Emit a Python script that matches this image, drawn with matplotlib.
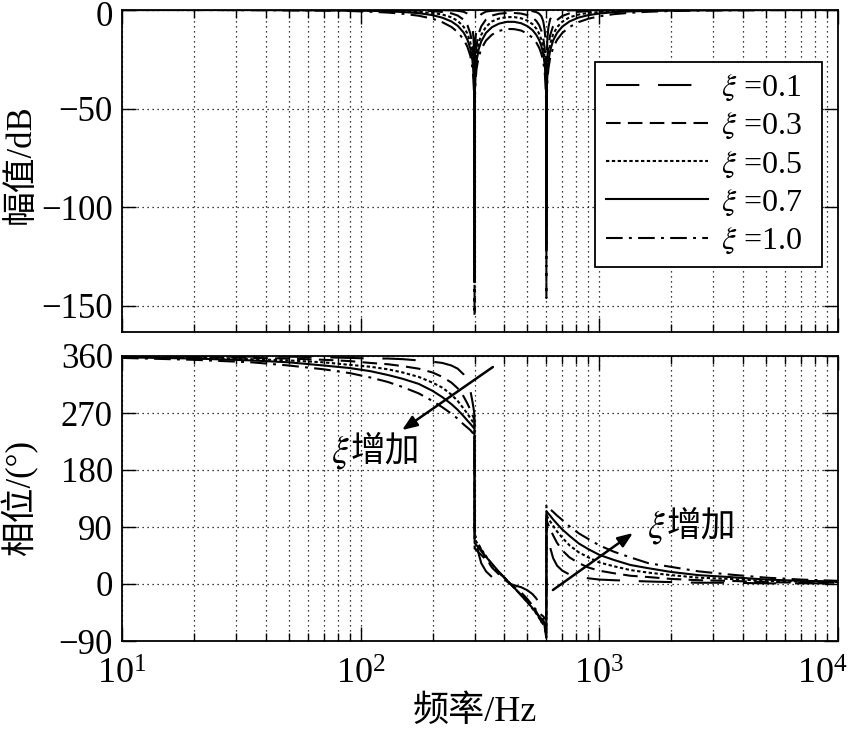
import matplotlib
matplotlib.use("Agg")
import matplotlib.pyplot as plt
import matplotlib.transforms as mtransforms
from matplotlib.ticker import LogLocator, NullFormatter, FixedLocator

plt.rcParams['font.family'] = ['Liberation Serif', 'Noto Sans CJK SC']
plt.rcParams['mathtext.fontset'] = 'stix'
plt.rcParams['axes.unicode_minus'] = True

# ---------------- data ----------------
xi_labels = [r'$\xi$ =0.1', r'$\xi$ =0.3', r'$\xi$ =0.5', r'$\xi$ =0.7', r'$\xi$ =1.0']

freq_phase = [10, 20, 35, 50, 70, 90, 110, 130, 150, 175,
              200, 220, 240, 255, 270, 280, 288, 294, 297, 299,
              299.8, 300.2, 301, 303, 306, 312, 320, 335, 355, 380,
              410, 440,
              470, 500, 525, 545, 560, 572, 582, 590, 595, 598,
              599.6, 600.4, 602, 606, 612, 622, 640, 665, 700, 750,
              820, 900, 1000, 1150, 1350, 1600, 2000, 2600, 3500, 5000,
              7000, 10000]

phase_01 = [360, 359, 359, 359, 358, 357, 356, 356, 355, 353,
            351, 349, 345, 340, 331, 321, 306, 288, 278, 270,
            267, 85, 82, 75, 64, 48, 33, 20, 11, 6,
            2, -2,
            -5, -10, -16, -23, -32, -42, -55, -67, -77, -82,
            -85, 93, 90, 82, 72, 58, 41, 29, 21, 15,
            11, 9, 7, 6, 5, 4, 3, 2, 2, 1,
            1, 1]
phase_03 = [359, 358, 357, 356, 354, 352, 349, 347, 344, 340,
            334, 327, 318, 309, 296, 285, 275, 267, 263, 260,
            259, 78, 77, 75, 71, 63, 54, 40, 26, 15,
            4, -5,
            -13, -24, -34, -44, -53, -60, -67, -72, -75, -77,
            -78, 101, 100, 97, 93, 87, 77, 65, 53, 42,
            33, 26, 21, 17, 13, 11, 8, 6, 5, 3,
            2, 2]
phase_05 = [359, 357, 355, 353, 350, 346, 343, 339, 334, 327,
            318, 310, 299, 289, 277, 269, 262, 257, 254, 252,
            252, 71, 71, 69, 66, 61, 55, 44, 31, 18,
            6, -6,
            -17, -29, -39, -47, -54, -59, -64, -67, -69, -71,
            -71, 108, 108, 106, 103, 99, 92, 83, 73, 61,
            50, 42, 34, 28, 22, 18, 14, 10, 8, 5,
            4, 3]
phase_07 = [358, 356, 353, 350, 345, 341, 336, 330, 324, 316,
            305, 295, 284, 275, 265, 258, 253, 249, 247, 246,
            245, 65, 64, 63, 61, 57, 52, 43, 32, 19,
            6, -6,
            -18, -29, -38, -46, -51, -55, -59, -62, -63, -64,
            -65, 115, 114, 113, 111, 108, 102, 95, 86, 76,
            64, 55, 46, 38, 30, 25, 19, 14, 11, 7,
            5, 4]
phase_10 = [357, 354, 350, 345, 339, 333, 326, 319, 311, 301,
            289, 279, 269, 261, 252, 247, 243, 239, 238, 237,
            236, 56, 56, 55, 53, 50, 46, 38, 29, 18,
            6, -6,
            -17, -27, -35, -41, -45, -49, -51, -54, -55, -56,
            -56, 124, 123, 122, 121, 118, 114, 108, 101, 91,
            80, 71, 61, 51, 42, 33, 27, 20, 15, 10,
            7, 5]

freq_mag = [10, 20, 35, 50, 70, 90, 110, 130, 150, 175,
            200, 220, 240, 255, 270, 280, 288, 294, 297, 299,
            299.8, 300, 300.2, 301, 303, 306, 312, 320, 335, 355, 380,
            410, 440,
            470, 500, 525, 545, 560, 572, 582, 590, 595, 598,
            599.6, 600, 600.4, 602, 606, 612, 622, 640, 665, 700, 750,
            820, 900, 1000, 1150, 1350, 1600, 2000, 2600, 3500, 5000,
            7000, 10000]

mag_01 = [0, 0, 0, 0, 0, 0, 0, 0, 0, 0,
          -0.1, -0.1, -0.2, -0.4, -0.9, -1.8, -4.0, -8.5, -14.1, -23.5,
          -37.5, -112, -37.5, -23.6, -14.2, -8.7, -4.2, -2.1, -0.8, -0.4, -0.2,
          -0.2, -0.2,
          -0.2, -0.3, -0.6, -1.1, -1.9, -3.2, -5.7, -10.0, -15.7, -23.5,
          -37.5, -88, -37.5, -23.6, -14.2, -8.7, -4.7, -2.1, -0.9, -0.4, -0.2,
          -0.1, -0.1, 0, 0, 0, 0, 0, 0, 0, 0,
          0, 0]
mag_03 = [0, 0, 0, 0, 0, -0.1, -0.1, -0.1, -0.2, -0.3,
          -0.6, -1.0, -1.7, -2.8, -4.9, -7.7, -11.8, -17.7, -23.7, -33.2,
          -47.2, -120, -47.2, -33.3, -23.8, -17.8, -12.1, -8.3, -4.8, -2.8, -1.9,
          -1.5, -1.5,
          -1.8, -2.6, -3.8, -5.6, -7.8, -10.6, -14.2, -19.2, -25.3, -33.2,
          -47.2, -98, -47.2, -33.2, -23.7, -17.8, -12.8, -8.2, -5.1, -3.0, -1.7,
          -0.9, -0.6, -0.4, -0.2, -0.1, -0.1, -0.1, 0, 0, 0,
          0, 0]
mag_05 = [0, 0, 0, 0, -0.1, -0.1, -0.2, -0.4, -0.5, -0.9,
          -1.5, -2.3, -3.7, -5.5, -8.5, -11.9, -16.3, -22.3, -28.4, -37.9,
          -51.9, -128, -51.9, -38.0, -28.5, -22.5, -16.7, -12.6, -8.5, -5.8, -4.3,
          -3.6, -3.6,
          -4.2, -5.4, -7.2, -9.5, -12.1, -15.1, -18.9, -24.0, -30.0, -37.9,
          -51.9, -108, -51.9, -38.0, -28.5, -22.5, -17.3, -12.4, -8.7, -5.9, -3.7,
          -2.3, -1.5, -1.0, -0.6, -0.4, -0.2, -0.1, 0, 0, 0,
          0, 0]
mag_07 = [0, 0, 0, -0.1, -0.2, -0.3, -0.4, -0.7, -1.0, -1.6,
          -2.6, -3.9, -5.8, -8.0, -11.4, -15.0, -19.5, -25.6, -31.7, -41.3,
          -55.3, -138, -55.3, -41.3, -31.8, -25.9, -20.0, -15.9, -11.6, -8.7, -6.9,
          -6.0, -6.0,
          -6.7, -8.2, -10.2, -12.7, -15.3, -18.4, -22.2, -27.3, -33.3, -41.3,
          -55.3, -122, -55.3, -41.3, -31.8, -25.8, -20.6, -15.5, -11.6, -8.4, -5.8,
          -3.8, -2.6, -1.8, -1.1, -0.7, -0.5, -0.3, -0.2, -0.1, 0,
          0, 0]
mag_10 = [0, 0, -0.1, -0.2, -0.3, -0.5, -0.9, -1.3, -1.9, -2.9,
          -4.4, -6.2, -8.6, -11.2, -14.9, -18.6, -23.2, -29.4, -35.5, -45.1,
          -59.1, -155, -59.1, -45.1, -35.7, -29.7, -23.9, -19.8, -15.5, -12.5, -10.6,
          -9.6, -9.7,
          -10.4, -12.0, -14.1, -16.6, -19.2, -22.3, -26.1, -31.1, -37.2, -45.1,
          -59.1, -146, -59.1, -45.1, -35.6, -29.6, -24.3, -19.2, -15.1, -11.6, -8.6,
          -6.1, -4.4, -3.2, -2.1, -1.4, -0.9, -0.5, -0.3, -0.2, -0.1,
          0, 0]

mag_series = [mag_01, mag_03, mag_05, mag_07, mag_10]
phase_series = [phase_01, phase_03, phase_05, phase_07, phase_10]

mag_ticks = [-150, -100, -50, 0]
phase_ticks = [-90, 0, 90, 180, 270, 360]
freq_ticks = [10, 100, 1000, 10000]

# ---------------- styling ----------------
dash_styles = [(0, (16, 9)), (0, (7, 3.5)), (0, (1.6, 1.2)), '-', (0, (8, 3, 1.4, 3))]
LW = 1.5
YTICK_FS = 25
XTICK_FS = 26
LABEL_FS = 25
NOTE_FS = 25

fig = plt.figure(figsize=(8.55, 7.29), dpi=100)
W, H = 855, 729
ax1 = fig.add_axes([122 / W, 1 - 332 / H, 716 / W, 322 / H])
ax2 = fig.add_axes([122 / W, 1 - 641 / H, 716 / W, 285 / H])

handles = []
for m, ls, lab in zip(mag_series, dash_styles, xi_labels):
    h, = ax1.plot(freq_mag, m, color='black', lw=LW, linestyle=ls, label=lab)
    handles.append(h)
for p, ls in zip(phase_series, dash_styles):
    ax2.plot(freq_phase, p, color='black', lw=LW, linestyle=ls)

for ax in (ax1, ax2):
    ax.set_xscale('log')
    ax.set_xlim(10, 10000)
    ax.xaxis.set_major_locator(FixedLocator(freq_ticks))
    ax.xaxis.set_minor_locator(LogLocator(base=10, subs=range(2, 10), numticks=20))
    ax.xaxis.set_minor_formatter(NullFormatter())
    ax.grid(True, which='major', axis='both', color='black', linestyle=(0, (1, 3)), lw=0.9)
    ax.grid(True, which='minor', axis='x', color='black', linestyle=(0, (1, 3)), lw=0.9)
    ax.tick_params(which='both', direction='in', top=True, right=True, width=1.0, colors='black')
    ax.tick_params(which='major', length=10)
    ax.tick_params(which='minor', length=6)
    ax.tick_params(axis='y', pad=6.5, labelsize=YTICK_FS)
    ax.tick_params(axis='x', labelsize=XTICK_FS)
    for sp in ax.spines.values():
        sp.set_linewidth(1.3)
        sp.set_color('black')
    ax.set_axisbelow(True)

ax1.set_ylim(-163.2, 0)
ax1.yaxis.set_major_locator(FixedLocator(mag_ticks))
ax1.tick_params(axis='x', labelbottom=False)
ax1.set_ylabel('幅值/dB', fontsize=LABEL_FS)
ax1.yaxis.set_label_coords(-0.117, 0.52)

ax2.set_ylim(-90, 360)
ax2.yaxis.set_major_locator(FixedLocator(phase_ticks))
ax2.tick_params(axis='x', pad=13)
ax2.set_ylabel('相位/(°)', fontsize=LABEL_FS)
ax2.yaxis.set_label_coords(-0.117, 0.5)
ax2.set_xlabel('频率/Hz', fontsize=LABEL_FS + 1)
ax2.xaxis.set_label_coords(0.493, -0.19)

fig.canvas.draw()
# keep the top "0" label below the upper edge and the 10^4 label inside the canvas
for tick in ax1.yaxis.get_major_ticks():
    if abs(tick.get_loc()) < 1e-9:
        lab = tick.label1
        lab.set_transform(lab.get_transform() + mtransforms.ScaledTranslation(0, -4 / 100, fig.dpi_scale_trans))
for tick in ax2.xaxis.get_major_ticks():
    if abs(tick.get_loc() - 10000) < 1:
        lab = tick.label1
        lab.set_transform(lab.get_transform() + mtransforms.ScaledTranslation(-16 / 100, 0, fig.dpi_scale_trans))

leg = ax1.legend(handles=handles, loc='upper left', bbox_to_anchor=(0.6606, 0.8385, 0.317, 0.0),
                 mode='expand', fontsize=23, frameon=True, fancybox=False, edgecolor='black',
                 framealpha=1, handlelength=3.2, handletextpad=0.4, labelspacing=0.25,
                 borderpad=0.35, borderaxespad=0)
leg.get_frame().set_linewidth(1.3)
for t in leg.get_texts():
    t.set_ha('left')

arrow_kw = dict(arrowstyle='-|>,head_length=0.9,head_width=0.35', color='black', lw=1.8,
                shrinkA=0, shrinkB=0)
ax2.annotate('', xy=(149, 243), xytext=(358, 342.6), arrowprops=arrow_kw)
ax2.annotate('', xy=(1383, 80.5), xytext=(639, -9.5), arrowprops=arrow_kw)


def xi_note(ax, x, y):
    ax.annotate('增加', xy=(x, y), xytext=(0, 0), textcoords='offset points',
                ha='left', va='center', fontsize=NOTE_FS)
    ax.annotate(r'$\xi$', xy=(x, y), xytext=(-1, 0), textcoords='offset points',
                ha='right', va='center', fontsize=NOTE_FS + 2)


xi_note(ax2, 91, 208)
xi_note(ax2, 1919, 90)

fig.savefig('out.png', dpi=100)
